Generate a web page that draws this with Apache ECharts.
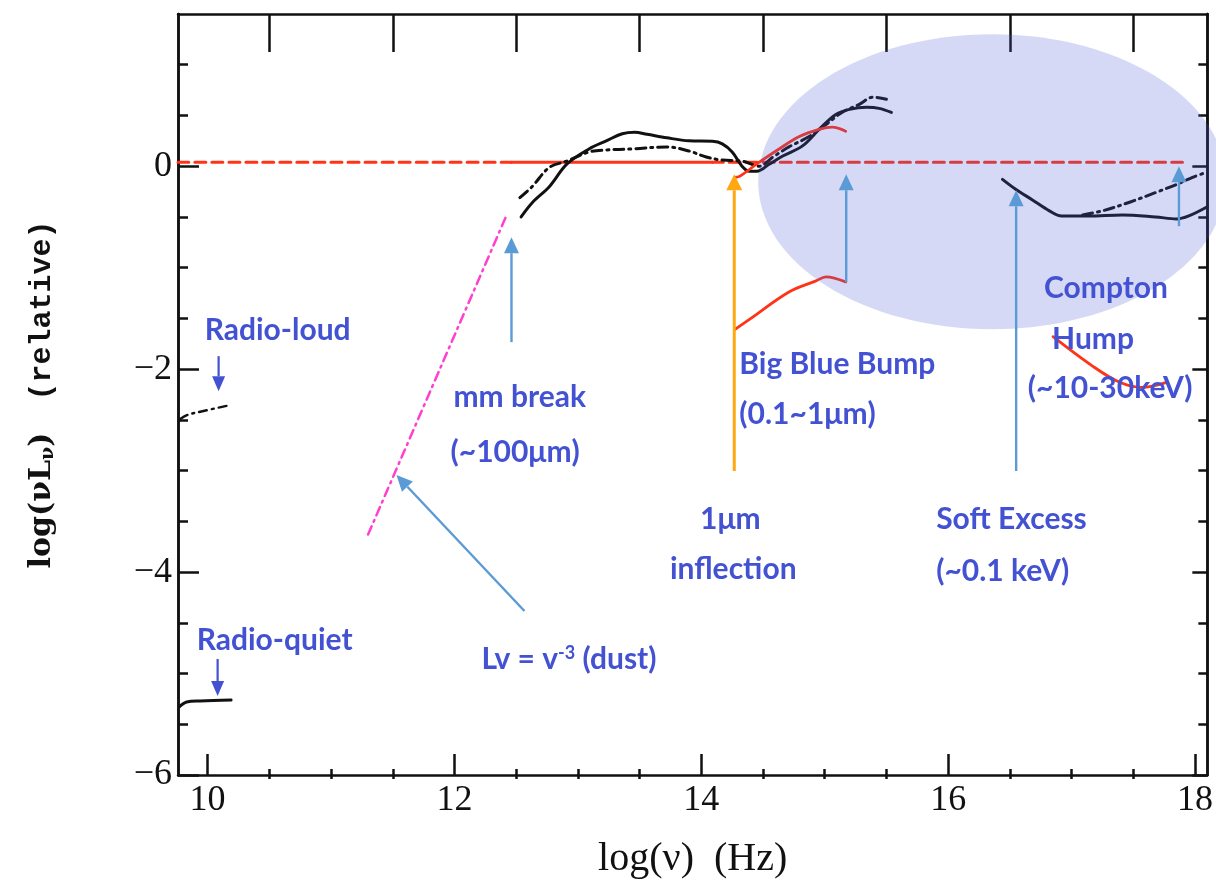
<!DOCTYPE html>
<html>
<head>
<meta charset="utf-8">
<script src="https://cdn.jsdelivr.net/npm/echarts@6/dist/echarts.min.js"></script>
<style>
  html, body { margin: 0; padding: 0; background: #ffffff; }
  #chart { width: 1216px; height: 884px; }
</style>
</head>
<body>
<div id="chart"></div>
<script>
// ---- axes ----
const xRange = [9.76, 18.1];
const yRange = [-6, 1.5];
const xMajorTicks = [10, 12, 14, 16, 18];
const xMinorTicks = [10.5, 11, 11.5, 12.5, 13, 13.5, 14.5, 15, 15.5, 16.5, 17, 17.5];
const xTopTicks = [10.5, 11.5, 12.5, 13.5, 14.5, 15.5, 16.5, 17.5];
const yMajorTicks = [-6, -4, -2, 0];
const yMinorTicks = [-5.5, -5, -4.5, -3.5, -3, -2.5, -1.5, -1, -0.5, 0.5, 1];

// ---- spectra: [log nu, log nuLnu] ----
const refLevel = 0.04;
const levelDashedLeft = [[9.76, refLevel], [12.46, refLevel]];
const levelSolid = [[12.46, refLevel], [14.09, refLevel]];
const levelDashedRight = [[14.09, refLevel], [17.94, refLevel]];

const sedSolid = [
  [12.54, -0.50], [12.63, -0.36], [12.77, -0.20], [12.91, 0.02], [13.09, 0.17],
  [13.23, 0.25], [13.36, 0.32], [13.46, 0.335], [13.56, 0.315], [13.72, 0.28],
  [13.90, 0.25], [14.09, 0.245], [14.17, 0.22], [14.25, 0.14], [14.33, 0.00],
  [14.39, -0.05], [14.45, -0.05], [14.55, 0.02], [14.66, 0.10], [14.82, 0.20],
  [14.96, 0.37], [15.09, 0.51], [15.20, 0.56], [15.34, 0.58], [15.44, 0.57], [15.54, 0.53]
];
const sedDashDot = [
  [12.53, -0.31], [12.63, -0.20], [12.77, -0.01], [12.91, 0.05], [13.09, 0.14],
  [13.23, 0.16], [13.44, 0.17], [13.72, 0.19], [13.90, 0.15], [14.04, 0.09],
  [14.17, 0.06], [14.33, 0.05], [14.47, 0.00], [14.58, 0.09], [14.71, 0.19],
  [14.87, 0.29], [15.01, 0.41], [15.14, 0.53], [15.28, 0.61], [15.39, 0.68], [15.50, 0.66]
];
const xraySolid = [
  [16.44, -0.13], [16.55, -0.23], [16.68, -0.33], [16.82, -0.44], [16.92, -0.49],
  [17.14, -0.49], [17.41, -0.48], [17.68, -0.50], [17.85, -0.52], [17.95, -0.49], [18.10, -0.40]
];
const xrayDashDot = [
  [17.09, -0.48], [17.25, -0.44], [17.47, -0.355], [17.68, -0.26], [17.85, -0.18], [17.98, -0.11], [18.07, -0.07]
];
const bbbUpper = [
  [14.27, -0.11], [14.31, -0.10], [14.47, 0.04], [14.63, 0.17], [14.79, 0.29],
  [14.96, 0.365], [15.06, 0.385], [15.17, 0.345]
];
const bbbLower = [
  [14.27, -1.61], [14.39, -1.51], [14.71, -1.24], [14.93, -1.13], [15.01, -1.09], [15.17, -1.14]
];
const comptonHump = [
  [16.85, -1.68], [17.17, -1.97], [17.39, -2.13], [17.57, -2.18], [17.77, -2.13]
];
const radioLoud = [[9.78, -2.49], [9.84, -2.45], [9.94, -2.42], [10.16, -2.36]];
const radioQuiet = [[9.77, -5.33], [9.83, -5.28], [9.94, -5.27], [10.19, -5.26]];
const dustSlope = [[11.30, -3.63], [12.42, -0.49]];

// ---- highlighted region: [centre x, centre y, half width, half height] ----
const highlight = [[16.356, -0.153, 1.895, 1.453]];

// ---- arrows: [x from, y from, x to, y to] ----
const arrowsLight = [
  [12.462, -1.734, 12.462, -0.70],
  [12.567, -4.384, 11.530, -3.044],
  [15.174, -1.143, 15.174, -0.079],
  [16.551, -3.005, 16.551, -0.236],
  [17.870, -0.591, 17.870, 0.0]
];
const arrowsOrange = [[14.267, -3.005, 14.267, -0.079]];
const arrowsDark = [
  [10.089, -1.872, 10.089, -2.217],
  [10.081, -4.857, 10.081, -5.222]
];

// ---- annotation texts ----
const notesLeftText = [
  'Radio-loud', 'Radio-quiet', 'mm break', '(~100μm)',
  '{t|Lv = v}{sup|-3}{t| (dust)}',
  'Big Blue Bump', '(0.1~1μm)', 'Soft Excess', '(~0.1 keV)'
];
const notesLeftPos = [
  [9.976, -1.62], [9.911, -4.67], [11.992, -2.276], [11.968, -2.818],
  [12.219, -4.857],
  [14.308, -1.951], [14.308, -2.443], [15.903, -3.478], [15.903, -3.990]
];
const notesCenterText = ['1μm', 'inflection', 'Compton', 'Hump', '(~10-30keV)'];
const notesCenterPos = [
  [14.235, -3.478], [14.259, -3.970], [17.279, -1.202], [17.174, -1.704], [17.312, -2.187]
];

// ---- styles ----
const INK = '#111111';
const RED = '#ff3318';
const NOTE_BLUE = '#4352d2';
const ARROW_BLUE = '#5b9bd5';
const ARROW_ORANGE = '#ffa812';
const GRID = { left: 178, right: 8, top: 14, bottom: 105 };
const PLOT_HEIGHT = 884 - GRID.top - GRID.bottom;
const tickFont = { fontFamily: 'Liberation Serif', fontSize: 36, color: INK };

function arrowRenderer(color, width, head, half) {
  return function (params, api) {
    const a = api.coord([api.value(0), api.value(1)]);
    const b = api.coord([api.value(2), api.value(3)]);
    const dx = b[0] - a[0], dy = b[1] - a[1];
    const len = Math.hypot(dx, dy) || 1;
    const ux = dx / len, uy = dy / len;
    const bx = b[0] - ux * head, by = b[1] - uy * head;
    const px = -uy, py = ux;
    return {
      type: 'group',
      children: [
        { type: 'line', shape: { x1: a[0], y1: a[1], x2: bx, y2: by },
          style: { stroke: color, lineWidth: width } },
        { type: 'polygon',
          shape: { points: [[b[0], b[1]], [bx + px * half, by + py * half], [bx - px * half, by - py * half]] },
          style: { fill: color } }
      ]
    };
  };
}

function textRenderer(texts, align) {
  return function (params, api) {
    const p = api.coord([api.value(0), api.value(1)]);
    return {
      type: 'text',
      x: p[0], y: p[1],
      style: {
        text: texts[params.dataIndex],
        fill: NOTE_BLUE,
        align: align,
        verticalAlign: 'middle',
        font: 'bold 30px Lato',
        rich: {
          t: { fontFamily: 'Lato', fontWeight: 'bold', fontSize: 30, fill: NOTE_BLUE },
          sup: { fontFamily: 'Lato', fontWeight: 'bold', fontSize: 18, fill: NOTE_BLUE,
                 verticalAlign: 'top', padding: [0, 0, 10, 0] }
        }
      }
    };
  };
}

function lineSeries(data, color, width, dash, z) {
  return {
    type: 'line', data: data, xAxisIndex: 0, yAxisIndex: 0,
    showSymbol: false, smooth: 0.35, silent: true, z: z || 2,
    lineStyle: { color: color, width: width, type: dash || 'solid', cap: 'round', join: 'round' }
  };
}

function xAxisBase(extra) {
  return Object.assign({
    type: 'value', min: xRange[0], max: xRange[1],
    splitLine: { show: false },
    axisLine: { show: true, onZero: false, lineStyle: { color: INK, width: 2.5 } }
  }, extra);
}
function yAxisBase(extra) {
  return Object.assign({
    type: 'value', min: yRange[0], max: yRange[1],
    splitLine: { show: false },
    axisLine: { show: true, onZero: false, lineStyle: { color: INK, width: 2.5 } }
  }, extra);
}

const chart = echarts.init(document.getElementById('chart'), null, { renderer: 'canvas' });

chart.setOption({
  animation: false,
  backgroundColor: '#ffffff',
  grid: Object.assign({ containLabel: false }, GRID),
  xAxis: [
    xAxisBase({
      position: 'bottom',
      name: 'log(ν)  (Hz)', nameLocation: 'middle', nameGap: 64,
      nameTextStyle: { fontFamily: 'Liberation Serif', fontSize: 40, color: INK },
      axisTick: { show: true, inside: true, length: 21, customValues: xMajorTicks,
                  lineStyle: { color: INK, width: 2.5 } },
      axisLabel: Object.assign({ show: true, margin: 8, customValues: xMajorTicks }, tickFont)
    }),
    xAxisBase({
      position: 'top',
      axisTick: { show: true, inside: true, length: 38, customValues: xTopTicks,
                  lineStyle: { color: INK, width: 2.5 } },
      axisLabel: { show: false }
    }),
    // half-unit ticks standing on the bottom frame
    xAxisBase({
      position: 'top', offset: -PLOT_HEIGHT,
      axisLine: { show: false, onZero: false },
      axisTick: { show: true, inside: false, length: 10, customValues: xMinorTicks,
                  lineStyle: { color: INK, width: 2.5 } },
      axisLabel: { show: false }
    })
  ],
  yAxis: [
    yAxisBase({
      position: 'left',
      name: '{a|log(νL}{s|ν}{a|)}{g| }{m|(relative)}',
      nameLocation: 'middle', nameRotate: 90, nameGap: 120,
      nameTextStyle: {
        color: INK,
        rich: {
          a: { fontFamily: 'DejaVu Serif', fontWeight: 'bold', fontSize: 30, color: INK },
          s: { fontFamily: 'DejaVu Serif', fontWeight: 'bold', fontSize: 19, color: INK,
               verticalAlign: 'bottom', padding: [12, 0, 0, 0] },
          g: { fontFamily: 'Liberation Mono', fontSize: 30, width: 32 },
          m: { fontFamily: 'Liberation Mono', fontWeight: 'bold', fontSize: 30, color: INK }
        }
      },
      axisTick: { show: true, inside: true, length: 21, customValues: yMajorTicks,
                  lineStyle: { color: INK, width: 2.5 } },
      axisLabel: Object.assign({ show: true, margin: 6, customValues: yMajorTicks,
                                 formatter: v => String(v).replace('-', '−') }, tickFont)
    }),
    yAxisBase({
      position: 'left',
      axisTick: { show: true, inside: true, length: 10, customValues: yMinorTicks,
                  lineStyle: { color: INK, width: 2.5 } },
      axisLabel: { show: false }
    }),
    yAxisBase({
      position: 'right',
      axisTick: { show: true, inside: true, length: 9, customValues: yMinorTicks,
                  lineStyle: { color: INK, width: 2.5 } },
      axisLabel: { show: false }
    }),
    yAxisBase({
      position: 'right',
      axisTick: { show: true, inside: true, length: 15, customValues: yMajorTicks,
                  lineStyle: { color: INK, width: 2.5 } },
      axisLabel: { show: false }
    })
  ],
  series: [
    // reference level log(nuLnu) = 0
    lineSeries(levelDashedLeft, RED, 3, [11, 6]),
    lineSeries(levelSolid, RED, 3),
    lineSeries(levelDashedRight, RED, 3, [11, 6]),
    // mean SEDs
    lineSeries(sedSolid, INK, 3),
    lineSeries(sedDashDot, INK, 3, [10, 5, 2, 5]),
    lineSeries(xraySolid, INK, 3),
    lineSeries(xrayDashDot, INK, 3, [10, 5, 2, 5]),
    lineSeries(radioLoud, INK, 2.4, [8, 5, 2, 5]),
    lineSeries(radioQuiet, INK, 3),
    lineSeries(dustSlope, '#ff3fd0', 2.5, [9, 5, 2, 5]),
    // emission components
    lineSeries(bbbUpper, RED, 2.8),
    lineSeries(bbbLower, RED, 2.8),
    lineSeries(comptonHump, RED, 2.8),
    // high-energy region
    {
      type: 'custom', data: highlight, z: 3, silent: true,
      renderItem: function (params, api) {
        const c = api.coord([api.value(0), api.value(1)]);
        const s = api.size([api.value(2), api.value(3)]);
        return { type: 'ellipse', shape: { cx: c[0], cy: c[1], rx: s[0], ry: s[1] },
                 style: { fill: 'rgba(78, 90, 212, 0.23)' } };
      }
    },
    // arrows
    { type: 'custom', data: arrowsLight, z: 4, silent: true,
      renderItem: arrowRenderer(ARROW_BLUE, 2.4, 16, 7.5) },
    { type: 'custom', data: arrowsOrange, z: 4, silent: true,
      renderItem: arrowRenderer(ARROW_ORANGE, 3, 16, 8) },
    { type: 'custom', data: arrowsDark, z: 4, silent: true,
      renderItem: arrowRenderer(NOTE_BLUE, 2.2, 15, 6.5) },
    // annotations
    { type: 'custom', data: notesLeftPos, z: 5, silent: true,
      renderItem: textRenderer(notesLeftText, 'left') },
    { type: 'custom', data: notesCenterPos, z: 5, silent: true,
      renderItem: textRenderer(notesCenterText, 'center') }
  ]
});
</script>
</body>
</html>
